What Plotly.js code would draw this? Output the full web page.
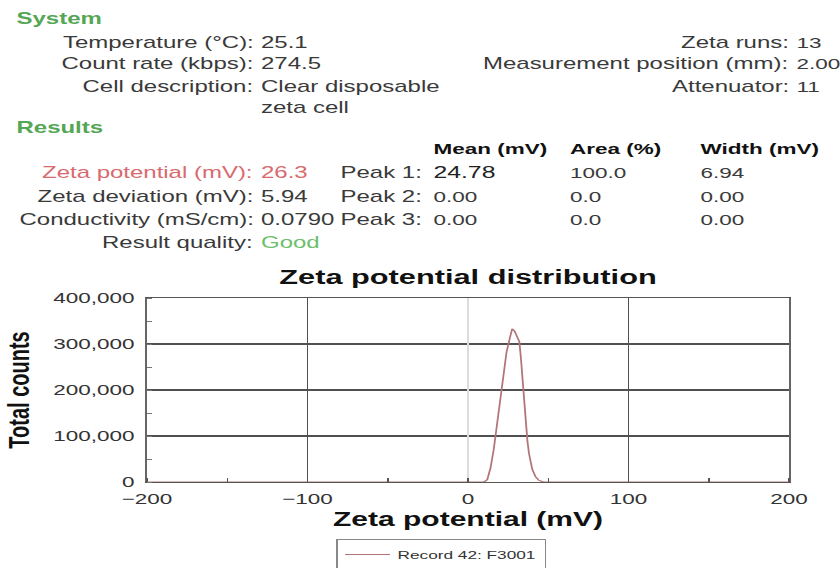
<!DOCTYPE html>
<html>
<head>
<meta charset="utf-8">
<script src="https://cdn.plot.ly/plotly-3.0.1.min.js"></script>
<style>
  html, body { margin: 0; padding: 0; background: #fff; overflow: hidden; }
  #wrap { width: 840px; height: 568px; overflow: hidden; }
  /* the reference picture is stretched 1.5x horizontally */
  #chart { width: 560px; height: 568px; transform: scaleX(1.5); transform-origin: 0 0; }
</style>
</head>
<body>
<div id="wrap"><div id="chart"></div></div>
<script>
// ---------- data ----------
const zetaMv = [-200, 10, 12, 14, 16, 18, 20, 22, 24, 26, 27.5, 29, 30.5, 32, 33, 34, 35, 36, 37, 38, 39, 40, 42, 44, 47, 200];
const totalCounts = [0, 0, 5000, 30000, 70000, 125000, 185000, 240000, 282000, 312000, 333000, 328000, 318000, 305000, 268000, 220000, 170000, 125000, 90000, 62000, 42000, 28000, 12000, 4000, 0, 0];
const seriesName = 'Record 42: F3001';
const xTicks = [-200, -100, 0, 100, 200];
const yTicks = [0, 100000, 200000, 300000, 400000];

const systemLabels = ['Temperature (°C):', 'Count rate (kbps):', 'Cell description:'];
const systemValues = ['25.1', '274.5', 'Clear disposable<br>zeta cell'];
const systemRightLabels = ['Zeta runs:', 'Measurement position (mm):', 'Attenuator:'];
const systemRightValues = ['13', '2.00', '11'];
const resultLabels = ['Zeta potential (mV):', 'Zeta deviation (mV):', 'Conductivity (mS/cm):', 'Result quality:'];
const resultValues = ['26.3', '5.94', '0.0790', 'Good'];
const peakLabels = ['Peak 1:', 'Peak 2:', 'Peak 3:'];
const peakHeaders = ['Mean (mV)', 'Area (%)', 'Width (mV)'];
const peakMean = ['24.78', '0.00', '0.00'];
const peakArea = ['100.0', '0.0', '0.0'];
const peakWidth = ['6.94', '0.00', '0.00'];

// ---------- layout helpers (reference pixel -> paper) ----------
const W = 560, H = 568, L = 98, PW = 428, B = 482, PH = 184, SX = 1.5;
const px = s => (s / SX - L) / PW;
const py = y => (B - y) / PH;
const FONT = 'Liberation Sans, Arial, sans-serif';
const TXT = '#3a3a3a', GREEN = '#55a655', RED = '#d86a6e';
const FS = 16;

const ann = [];
function addText(text, sx, y, anchor, color, opts) {
  ann.push(Object.assign({
    text: text, x: px(sx), y: py(y), xref: 'paper', yref: 'paper',
    xanchor: anchor, yanchor: 'middle', showarrow: false, align: 'left',
    font: { family: FONT, size: FS, color: color }
  }, opts || {}));
}
const bold = { font: { family: FONT, size: FS, color: GREEN, weight: 'bold' } };
const small = c => ({ font: { family: FONT, size: 15, color: c } });

addText('System', 14, 18, 'left', GREEN, bold);
const sysY = [42, 64, 87];
systemLabels.forEach((t, i) => addText(t, 256, sysY[i], 'right', TXT));
systemValues.forEach((t, i) => addText(t, 258, i === 2 ? 97 : sysY[i], 'left', TXT));
systemRightLabels.forEach((t, i) => addText(t, 792, sysY[i], 'right', TXT));
systemRightValues.forEach((t, i) => addText(t, 794, sysY[i], 'left', TXT, small(TXT)));

addText('Results', 14, 127, 'left', GREEN, bold);
const colX = [430, 567, 698];
peakHeaders.forEach((t, i) => addText(t, colX[i], 148, 'left', '#111',
  { font: { family: FONT, size: 15, color: '#111', weight: 'bold' } }));
const resY = [172, 196, 219, 243];
resultLabels.forEach((t, i) => addText(t, 256, resY[i], 'right', i === 0 ? RED : TXT));
resultValues.forEach((t, i) => addText(t, 258, resY[i], 'left', i === 0 ? RED : (i === 3 ? '#6cbf6c' : TXT)));
peakLabels.forEach((t, i) => addText(t, 424, resY[i], 'right', TXT));
peakMean.forEach((t, i) => addText(t, colX[0], resY[i], 'left', TXT,
  i === 0 ? { font: { family: FONT, size: 16.5, color: '#222' } } : small(TXT)));
peakArea.forEach((t, i) => addText(t, colX[1], resY[i], 'left', TXT, small(TXT)));
peakWidth.forEach((t, i) => addText(t, colX[2], resY[i], 'left', TXT, small(TXT)));

// ---------- plot ----------
const trace = {
  x: zetaMv, y: totalCounts, type: 'scatter', mode: 'lines', name: seriesName,
  line: { color: '#b27678', width: 1.2 }
};

const layout = {
  width: W, height: H,
  margin: { l: L, r: W - L - PW, t: 298, b: H - B, pad: 0, autoexpand: false },
  paper_bgcolor: '#fff', plot_bgcolor: '#fff',
  font: { family: FONT, color: TXT },
  title: {
    text: 'Zeta potential distribution',
    font: { family: FONT, size: 20.5, color: '#111', weight: 'bold' },
    xref: 'paper', x: 0.5, xanchor: 'center', yref: 'container', y: 1 - 277 / H, yanchor: 'middle'
  },
  xaxis: {
    range: [-200, 200], tickvals: xTicks, ticks: '', automargin: false,
    showgrid: true, gridcolor: '#505050', gridwidth: 1.3,
    zeroline: true, zerolinecolor: '#dcdcdc', zerolinewidth: 1,
    showline: true, linecolor: '#555', linewidth: 1.3, mirror: true,
    minor: { dtick: 50, ticks: 'inside', ticklen: 4, tickcolor: '#555', showgrid: false },
    tickfont: { family: FONT, size: 15, color: '#333' }, ticklabelstandoff: 3,
    title: { text: 'Zeta potential (mV)', font: { family: FONT, size: 20, color: '#111', weight: 'bold' }, standoff: 5 }
  },
  yaxis: {
    range: [0, 400000], tickvals: yTicks, tickformat: ',d', ticks: '', automargin: false,
    showgrid: true, gridcolor: '#505050', gridwidth: 1.3, zeroline: false,
    showline: true, linecolor: '#666', linewidth: 1.3, mirror: true,
    minor: { dtick: 50000, ticks: 'inside', ticklen: 3, tickcolor: '#777', showgrid: false },
    tickfont: { family: FONT, size: 15, color: '#333' }, ticklabelstandoff: 4,
    title: { text: 'Total counts', font: { family: FONT, size: 20, color: '#111', weight: 'bold' }, standoff: 10 }
  },
  showlegend: true,
  legend: {
    x: px(336), xanchor: 'left', y: py(539), yanchor: 'top',
    bordercolor: '#888', borderwidth: 1, bgcolor: '#fff',
    font: { family: FONT, size: 11.5, color: '#333' }
  },
  annotations: ann
};

Plotly.newPlot('chart', [trace], layout, { staticPlot: true, displayModeBar: false });
</script>
</body>
</html>
